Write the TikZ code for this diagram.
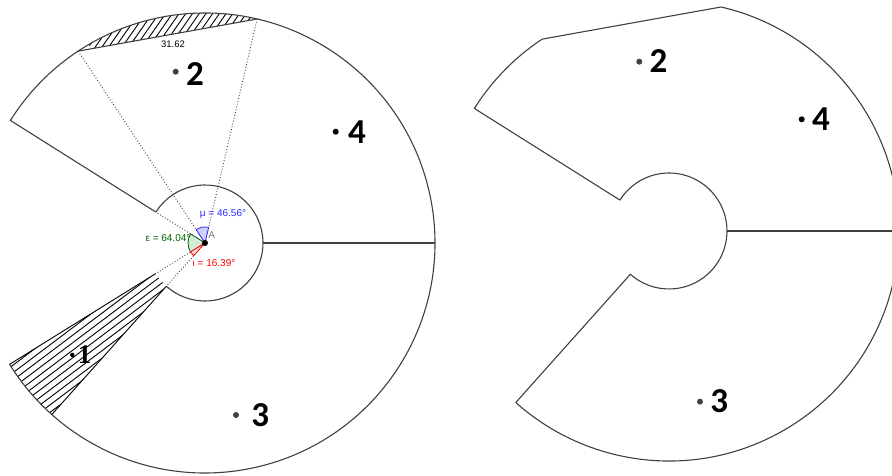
\documentclass[tikz,border=0pt]{standalone}
\usepackage{fontspec}
\setmainfont{Liberation Sans}
\newfontfamily\numfont{Carlito}
\newfontfamily\serifnum{Liberation Serif}
\usetikzlibrary{positioning,calc}
\definecolor{sketchGray}{RGB}{64,64,64}
\definecolor{angleBlue}{RGB}{40,40,255}
\definecolor{angleGreen}{RGB}{0,100,0}
\definecolor{angleRed}{RGB}{255,0,0}
\definecolor{fillBlue}{RGB}{208,208,255}
\definecolor{fillGreen}{RGB}{214,234,214}
\definecolor{fillRed}{RGB}{255,225,225}
\newcommand{\rIn}{58}
\newcommand{\rOut}{230}

\begin{document}
\begin{tikzpicture}[
  x=1pt, y=1pt,
  outline/.style={draw=sketchGray, line width=1.1pt, line join=round},
  guide/.style={dotted, draw=sketchGray, line width=0.9pt},
  hatchline/.style={black, line width=0.9pt},
  pt/.style={circle, fill=sketchGray, inner sep=0pt, minimum size=6pt},
  tag/.style={font=\numfont\bfseries\fontsize{35}{35}\selectfont, inner sep=0pt},
  tagone/.style={font=\serifnum\bfseries\fontsize{27}{27}\selectfont, inner sep=0pt},
  anglab/.style={font=\fontsize{10}{10}\selectfont, inner sep=0pt}
]
\useasboundingbox (0,0) rectangle (892,476);

% left figure, with construction
\coordinate (A) at (205,233);
\coordinate (P) at ($(A)+(123.46:\rOut)$);
\coordinate (Q) at ($(A)+(76.9:\rOut)$);
\coordinate (gapIn) at ($(A)+(147.8:\rIn)$);
\coordinate (wedgeIn) at ($(A)+(211.84:\rIn)$);
\coordinate (wedgeOut) at ($(A)+(228.23:\rIn)$);

% hatched segment over the chord
\begin{scope}
  \clip (P) arc[start angle=123.46, end angle=76.9, radius=\rOut] -- cycle;
  \foreach \k in {-16,...,16}
    \draw[hatchline] ($(169,448)+(145:{\k*5.5})$) ++(55:-60) -- ++(55:120);
\end{scope}

% hatched wedge
\begin{scope}
  \clip (wedgeIn) -- ($(A)+(211.84:\rOut)$)
    arc[start angle=211.84, end angle=228.23, radius=\rOut]
    -- (wedgeOut) arc[start angle=228.23, end angle=211.84, radius=\rIn] -- cycle;
  \foreach \k in {-9,...,9}
    \draw[hatchline] ($(85,120)+(127:{\k*6})$) ++(37:-120) -- ++(37:240);
\end{scope}

\draw[outline] (gapIn) -- ($(A)+(147.8:\rOut)$)
  arc[start angle=147.8, end angle=-148.16, radius=\rOut];
\draw[outline] (gapIn) arc[start angle=147.8, end angle=-131.77, radius=\rIn];
\draw[outline] ($(A)+(0:\rIn)$) -- ($(A)+(0:\rOut)$);
\draw[outline] (P) -- (Q);
\draw[hatchline] (wedgeIn) -- ($(A)+(211.84:\rOut)$);
\draw[hatchline] (wedgeOut) -- ($(A)+(228.23:\rOut)$);

\draw[guide] (A) -- (P);
\draw[guide] (A) -- (Q);
\draw[guide] (A) -- (gapIn);
\draw[guide] (A) -- (wedgeIn);
\draw[guide] (A) -- (wedgeOut);

% angle marks
\draw[draw=angleBlue, fill=fillBlue, line width=0.8pt] (A) -- ++(76.9:16)
  arc[start angle=76.9, end angle=123.46, radius=16] -- cycle;
\draw[draw=angleGreen, fill=fillGreen, line width=0.8pt] (A) -- ++(147.8:17)
  arc[start angle=147.8, end angle=211.84, radius=17] -- cycle;
\draw[draw=angleRed, fill=fillRed, line width=0.8pt] (A) -- ++(211.84:17)
  arc[start angle=211.84, end angle=228.23, radius=17] -- cycle;

\node[circle, fill=black, inner sep=0pt, minimum size=6pt] (Adot) at (A) {};
\node[anglab, text=sketchGray!70] (Alab) at ($(A)+(6.7,8)$) {A};
\node[anglab, text=angleBlue] (mu) at ($(A)+(18,29.5)$) {μ = 46.56°};
\node[anglab, text=angleGreen] (eps) at ($(A)+(-37,5)$) {ε = 64.04°};
\node[anglab, text=angleRed] (iota) at ($(A)+(9,-20.5)$) {ι = 16.39°};
\node[anglab, font=\fontsize{9.5}{9.5}\selectfont] (chord) at (173,431.5) {31.62};

% region points, left
\node[pt, fill=black, minimum size=4.5pt] (one) at (72.3,121) {};
\node[tagone, right=3pt of one] (oneLab) {1};
\node[pt] (two) at (175.7,404.3) {};
\node[tag, right=7pt of two, yshift=-2pt] (twoLab) {2};
\node[pt] (three) at (236,61) {};
\node[tag, right=12pt of three] (threeLab) {3};
\node[pt, fill=black] (four) at (335.7,344.3) {};
\node[tag, right=9pt of four] (fourLab) {4};

% right figure, the cleaned-up outline
\coordinate (B) at (669,245);
\draw[outline] ($(B)+(147.8:\rIn)$) -- ($(B)+(147.8:\rOut)$)
  arc[start angle=147.8, end angle=123.46, radius=\rOut]
  -- ($(B)+(76.9:\rOut)$)
  arc[start angle=76.9, end angle=-131.77, radius=\rOut]
  -- ($(B)+(-131.77:\rIn)$)
  arc[start angle=-131.77, end angle=147.8, radius=\rIn] -- cycle;
\draw[outline] ($(B)+(0:\rIn)$) -- ($(B)+(0:\rOut)$);

\node[pt] (twoR) at (639.3,414.3) {};
\node[tag, right=7pt of twoR, yshift=1pt] (twoRLab) {2};
\node[pt, fill=black] (fourR) at (801.7,356.7) {};
\node[tag, right=7pt of fourR] (fourRLab) {4};
\node[pt] (threeR) at (700,74.3) {};
\node[tag, right=7pt of threeR, yshift=1pt] (threeRLab) {3};
\end{tikzpicture}
\end{document}
